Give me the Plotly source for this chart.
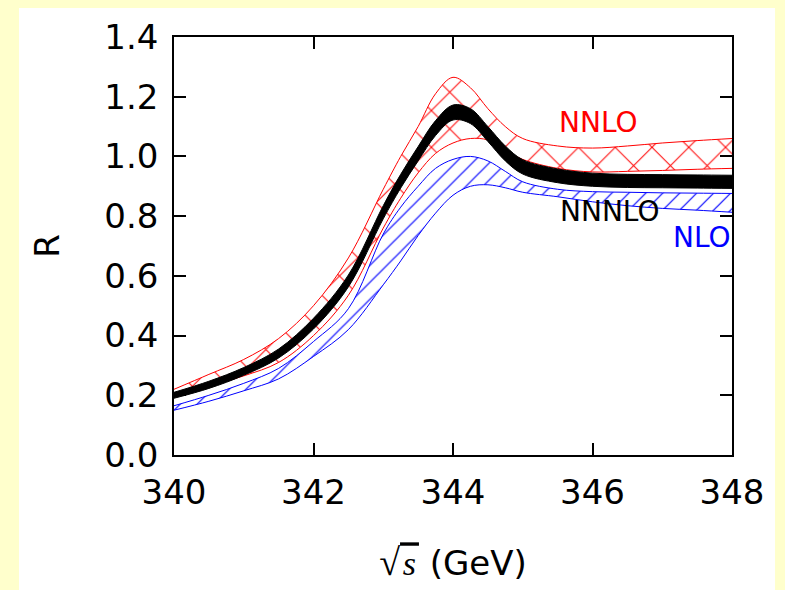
import plotly.graph_objects as go

# sqrt(s) grid (GeV)
energy = [340, 340.5, 341, 341.5, 342, 342.5, 343, 343.25, 343.5, 343.75, 344,
          344.25, 344.5, 344.75, 345, 345.5, 346, 346.5, 347, 347.5, 348]

# NNLO band (red)
nnlo_hi = [0.22, 0.27, 0.32, 0.39, 0.50, 0.66, 0.89, 1.00, 1.10, 1.21, 1.265,
           1.23, 1.16, 1.10, 1.06, 1.035, 1.028, 1.035, 1.045, 1.053, 1.06]
nnlo_lo = [0.195, 0.23, 0.265, 0.31, 0.40, 0.535, 0.76, 0.86, 0.945, 1.01, 1.045,
           1.06, 1.055, 1.02, 0.99, 0.96, 0.948, 0.95, 0.953, 0.957, 0.96]

# NLO band (blue)
nlo_hi = [0.165, 0.20, 0.24, 0.29, 0.38, 0.49, 0.74, 0.83, 0.90, 0.96, 0.99,
          1.0, 0.985, 0.95, 0.915, 0.89, 0.882, 0.88, 0.878, 0.877, 0.876]
nlo_lo = [0.15, 0.18, 0.215, 0.255, 0.33, 0.42, 0.57, 0.65, 0.735, 0.81, 0.87,
          0.9, 0.905, 0.895, 0.88, 0.865, 0.848, 0.835, 0.826, 0.82, 0.813]

# NNNLO band (black, narrow)
nnnlo_hi = [0.21, 0.247, 0.293, 0.355, 0.458, 0.603, 0.835, 0.94, 1.033, 1.12, 1.172,
            1.16, 1.1, 1.035, 0.989, 0.958, 0.944, 0.94, 0.939, 0.938, 0.937]
nnnlo_lo = [0.19, 0.223, 0.267, 0.325, 0.422, 0.563, 0.791, 0.894, 0.985, 1.07, 1.122,
            1.11, 1.05, 0.985, 0.941, 0.912, 0.9, 0.896, 0.895, 0.894, 0.893]

TICK_FONT = dict(family="DejaVu Sans", size=34, color="black")

fig = go.Figure()


def add_band(lo, hi, color, shape, size, solidity):
    fig.add_trace(go.Scatter(
        x=energy, y=lo, mode="lines", line=dict(color=color, width=1, shape="spline"),
        hoverinfo="skip", showlegend=False,
    ))
    fig.add_trace(go.Scatter(
        x=energy, y=hi, mode="lines", line=dict(color=color, width=1, shape="spline"),
        fill="tonexty", fillcolor="rgba(255,255,255,0)",
        fillpattern=dict(shape=shape, fgcolor=color, fgopacity=1,
                         bgcolor="rgba(255,255,255,0)",
                         fillmode="overlay", size=size, solidity=solidity),
        hoverinfo="skip", showlegend=False,
    ))


add_band(nlo_lo, nlo_hi, "blue", "/", 12, 0.1)
add_band(nnlo_lo, nnlo_hi, "red", "x", 26, 0.075)

# NNNLO: solid black band
fig.add_trace(go.Scatter(
    x=energy, y=nnnlo_lo, mode="lines", line=dict(color="black", width=1, shape="spline"),
    hoverinfo="skip", showlegend=False,
))
fig.add_trace(go.Scatter(
    x=energy, y=nnnlo_hi, mode="lines", line=dict(color="black", width=1, shape="spline"),
    fill="tonexty", fillcolor="black", hoverinfo="skip", showlegend=False,
))

labels = [("NNLO", 346.08, 1.115, "red"), ("NNNLO", 346.25, 0.814, "black"),
          ("NLO", 347.57, 0.730, "blue")]
for text, lx, ly, col in labels:
    fig.add_annotation(x=lx, y=ly, text=text, showarrow=False,
                       font=dict(family="DejaVu Sans", size=28, color=col))

axis_common = dict(
    showgrid=False, zeroline=False, showline=True, linecolor="black", linewidth=1.5,
    mirror="ticks", ticks="inside", ticklen=12, tickwidth=2, tickcolor="black",
    tickfont=TICK_FONT,
)

x_title = ("<span style='font-family:Liberation Serif;font-size:38px'>√</span>"
           "<span style='font-family:Liberation Serif;font-style:italic;"
           "text-decoration:overline'>&#8202;s&#8202;</span> (GeV)")

fig.update_xaxes(
    range=[340, 348], tick0=340, dtick=2, ticklabelstandoff=6,
    title=dict(text=x_title, font=TICK_FONT, standoff=41),
    **axis_common,
)
fig.update_yaxes(
    range=[0, 1.4], tick0=0, dtick=0.2, tickformat=".1f", ticklabelstandoff=7,
    title=dict(text="R", font=TICK_FONT, standoff=34),
    **axis_common,
)

fig.update_layout(
    width=785, height=590,
    paper_bgcolor="#ffffcc", plot_bgcolor="white",
    margin=dict(l=174, r=53, t=37, b=135),
    shapes=[dict(type="rect", xref="paper", yref="paper",
                 x0=-0.2778, x1=1.0771, y0=-0.323, y1=1.0694,
                 fillcolor="white", line=dict(width=0), layer="below")],
    showlegend=False,
)

fig.write_html("out.html", config={"displayModeBar": False},
               post_script="document.body.style.margin='0';")
